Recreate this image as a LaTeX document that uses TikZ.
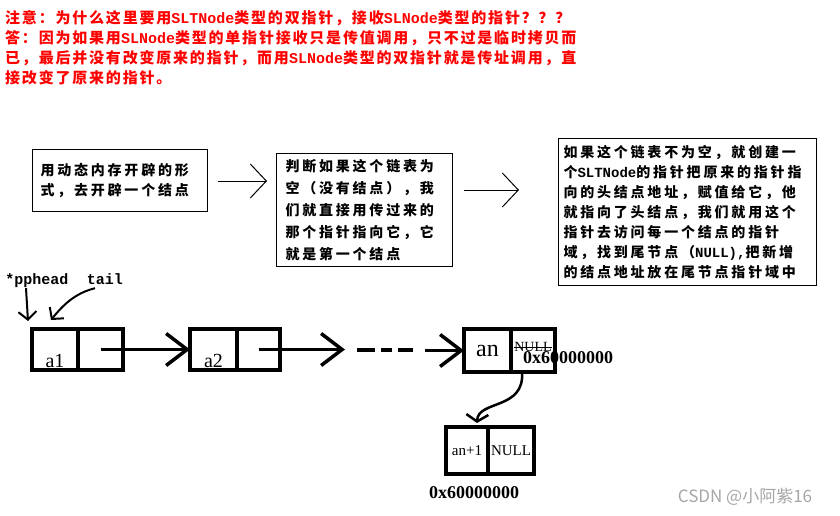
\documentclass[tikz,border=0pt]{standalone}
\usepackage{fontspec}
\setmainfont{Liberation Serif}
\newfontfamily\cjkfont{Noto Sans CJK SC}
\newfontfamily\codefont{Liberation Mono}
\newcommand{\code}[1]{{\codefont\bfseries #1}}
\usetikzlibrary{arrows.meta}

\tikzset{
  notetext/.style={anchor=north west, align=left, inner sep=0pt, text=red,
    font=\cjkfont\bfseries\fontsize{15}{20}\selectfont\addfontfeature{LetterSpace=12}},
  textbox/.style={draw, line width=1pt, anchor=north west, align=left,
    font=\cjkfont\bfseries\fontsize{14}{#1}\selectfont\addfontfeature{LetterSpace=20}},
  textbox/.default=20,
  thin arrow/.style={line width=1pt, -{Straight Barb[length=16pt,width=34pt]}},
  cell/.style={draw, line width=3.5pt, outer sep=0pt, inner sep=0pt, minimum height=41pt},
  low/.style={text height=35pt, text depth=0pt, font=\fontsize{20}{20}\selectfont},
  list arrow/.style={line width=3.5pt, -{Straight Barb[length=21pt,width=32pt]}},
  dots line/.style={line width=4pt},
  hand arrow/.style={line width=2pt, -{Straight Barb[length=8pt,width=18pt]}},
  ptrlabel/.style={font=\codefont\bfseries\fontsize{15}{15}\selectfont, inner sep=1pt,
    text height=11pt, text depth=3pt},
  addr/.style={font=\bfseries\fontsize{18}{18}\selectfont, inner sep=0pt}
}

\begin{document}
\begin{tikzpicture}[x=1pt, y=-1pt]
  \useasboundingbox (0,0) rectangle (840,516);

  % 红色说明
  \node[notetext] (note) at (5,10) {注意：为什么这里要用\code{SLTNode}类型的双指针，接收\code{SLNode}类型的指针？？？\\
    答：因为如果用\code{SLNode}类型的单指针接收只是传值调用，只不过是临时拷贝而\\
    已，最后并没有改变原来的指针，而用\code{SLNode}类型的双指针就是传址调用，直\\
    接改变了原来的指针。};

  % 三个步骤说明框
  \node[textbox, text width=159pt, inner xsep=8pt, minimum height=62pt] (box1) at (32,149)
    {用动态内存开辟的形\\式，去开辟一个结点};
  \node[textbox=22, text width=158pt, inner xsep=9pt, minimum height=113pt] (box2) at (276,153)
    {判断如果这个链表为\\空（没有结点），我\\们就直接用传过来的\\那个指针指向它，它\\就是第一个结点};
  \node[textbox, text width=248pt, inner xsep=5pt, minimum height=147pt] (box3) at (558,138)
    {如果这个链表不为空，就创建一\\个\code{SLTNode}的指针把原来的指针指\\向的头结点地址，赋值给它，他\\就指向了头结点，我们就用这个\\指针去访问每一个结点的指针\\域，找到尾节点（\code{NULL),}把新增\\的结点地址放在尾节点指针域中};

  \draw[thin arrow] ([shift={(10,32)}]box1.north east) -- ([shift={(-9,28)}]box2.north west);
  \draw[thin arrow] ([shift={(11,37)}]box2.north east) -- ([shift={(-39,52)}]box3.north west);

  % 指针标签
  \node[ptrlabel] (pphead) at (37,280) {*pphead};
  \node[ptrlabel] (tail) at (105,280) {tail};
  \coordinate (pptip) at (28,321);
  \coordinate (tailtip) at (51,320);
  \draw[hand arrow] ([xshift=-11pt]pphead.south) -- (pptip);
  \draw[hand arrow] ([xshift=-10pt]tail.south) .. controls +(-20,5) and +(12,-15) .. (tailtip);

  % 链表结点
  \node[cell, minimum width=46pt, low] (a1d) at (55,349.5) {a1};
  \node[cell, minimum width=45pt, anchor=west] (a1p) at (a1d.east) {};
  \node[cell, minimum width=47pt, low] (a2d) at (213.5,349.5) {a2};
  \node[cell, minimum width=43pt, anchor=west] (a2p) at (a2d.east) {};
  \node[cell, minimum width=47pt, minimum height=43pt, font=\fontsize{24}{24}\selectfont] (and) at (487.5,350.5) {an};
  \node[cell, minimum width=44pt, minimum height=43pt, anchor=west] (anp) at (and.east) {};
  \node[cell, minimum width=42pt, minimum height=47pt, font=\fontsize{15}{15}\selectfont] (an1d) at (467,450.5) {an+1};
  \node[cell, minimum width=46pt, minimum height=47pt, anchor=west, font=\fontsize{15}{15}\selectfont] (an1p) at (an1d.east) {NULL};

  \draw[list arrow] (a1p.center) -- (a2d.west);
  \coordinate (dotsA) at (345,349.5);
  \coordinate (dotsE) at (425,350.5);
  \draw[list arrow] (a2p.center) -- (dotsA);
  \draw[dots line] (357,350) -- (375,350) (381,350) -- (392,350) (398,350) -- (413,350);
  \draw[list arrow] (dotsE) -- (and.west);

  % 被划掉的NULL和地址
  \node[font=\fontsize{14}{14}\selectfont, inner sep=0pt] (oldnull) at (533,347) {NULL};
  \draw[line width=1pt] (oldnull.west) -- (oldnull.east);
  \node[addr] (addr1) at (568,358) {0x60000000};
  \draw[line width=2.5pt, -{Straight Barb[length=7pt,width=22pt]}]
    ([xshift=-11pt]anp.south) .. controls +(3,38) and +(1,-23) .. ([xshift=10pt,yshift=4pt]an1d.north);
  \node[addr] (addr2) at (474,493) {0x60000000};

  \node[font=\cjkfont\fontsize{17}{17}\selectfont, text=gray!70] (mark) at (745,497) {CSDN @小阿紫16};
\end{tikzpicture}
\end{document}
